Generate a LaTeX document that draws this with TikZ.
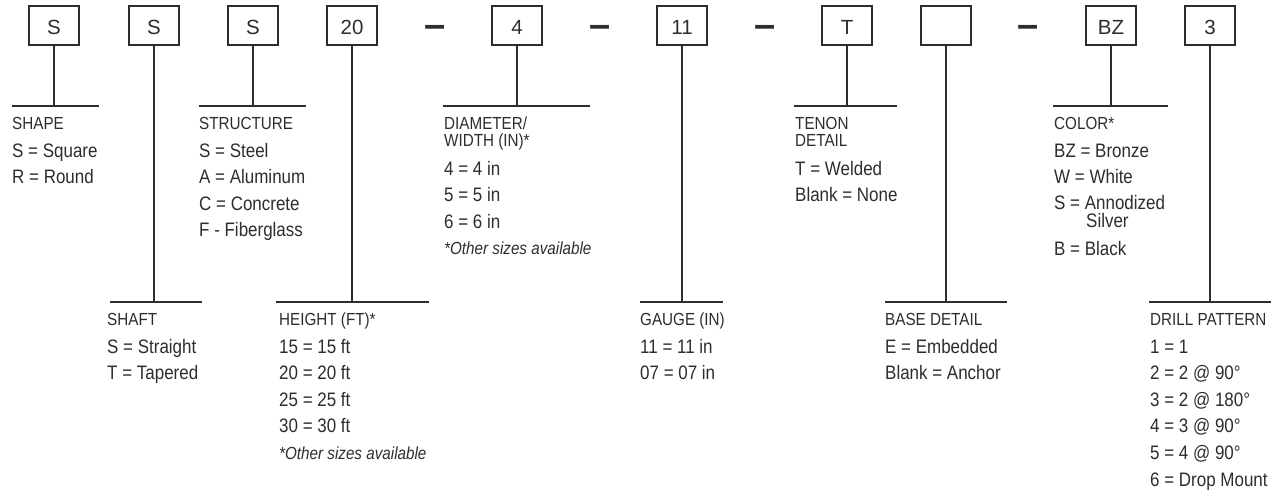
\documentclass[tikz,border=0pt]{standalone}
\usepackage{fontspec}
\setmainfont{Liberation Sans}
\newfontfamily\narrowfont{Liberation Sans}[FakeStretch=0.87]
\definecolor{ink}{RGB}{45,45,45}
\begin{document}
\begin{tikzpicture}[x=1pt,y=-1pt,
  codebox/.style={draw=ink, line width=1.2pt, minimum width=50pt, minimum height=39pt, inner sep=0pt,
    text height=17pt, text depth=0pt, font=\fontsize{20.5}{22}\selectfont, text=ink},
  dashmark/.style={anchor=base, inner sep=0pt, text=ink, font=\bfseries\fontsize{38}{40}\selectfont},
  ttl/.style={anchor=base west, inner sep=0pt, text=ink, font=\narrowfont\fontsize{17.5}{20}\selectfont},
  itm/.style={anchor=base west, inner sep=0pt, text=ink, font=\narrowfont\fontsize{19.5}{22}\selectfont},
  note/.style={anchor=base west, inner sep=0pt, text=ink, font=\narrowfont\itshape\fontsize{17.5}{20}\selectfont},
  vline/.style={draw=ink, line width=1.2pt},
  hline/.style={draw=ink, line width=1.6pt}]
\useasboundingbox (0,0) rectangle (1281,493);
% code boxes
\node[codebox] (b1) at (54,25.5) {S};
\node[codebox] (b2) at (154,25.5) {S};
\node[codebox] (b3) at (253,25.5) {S};
\node[codebox] (b4) at (352,25.5) {20};
\node[codebox] (b5) at (517,25.5) {4};
\node[codebox] (b6) at (682,25.5) {11};
\node[codebox] (b7) at (847,25.5) {T};
\node[codebox] (b8) at (946,25.5) {};
\node[codebox] (b9) at (1111,25.5) {BZ};
\node[codebox] (b10) at (1210,25.5) {3};
% dashes
\node[dashmark] (d1) at (435,37.4) {–};
\node[dashmark] (d2) at (600,37.4) {–};
\node[dashmark] (d3) at (765,37.4) {–};
\node[dashmark] (d4) at (1028,37.4) {–};
% horizontal rules
\coordinate (h1l) at (12,106);   \coordinate (h1r) at (99,106);
\coordinate (h2l) at (110,302);  \coordinate (h2r) at (202,302);
\coordinate (h3l) at (199,106);  \coordinate (h3r) at (306,106);
\coordinate (h4l) at (276,302);  \coordinate (h4r) at (429,302);
\coordinate (h5l) at (443,106);  \coordinate (h5r) at (590,106);
\coordinate (h6l) at (640,302);  \coordinate (h6r) at (723,302);
\coordinate (h7l) at (794,106);  \coordinate (h7r) at (897,106);
\coordinate (h8l) at (885,302);  \coordinate (h8r) at (1007,302);
\coordinate (h9l) at (1053,106); \coordinate (h9r) at (1168,106);
\coordinate (h10l) at (1149,302); \coordinate (h10r) at (1271,302);
\foreach \i in {1,...,10} {
  \draw[hline] (h\i l) -- (h\i r);
  \draw[vline] (b\i.south) -- (b\i.south |- h\i l);
}
% SHAPE
\node[ttl] (t1) at (12,129.4) {SHAPE};
\node[itm] (t1a) at (12,157) {S = Square};
\node[itm] (t1b) at (12,183.6) {R = Round};
% STRUCTURE
\node[ttl] (t3) at (199,129.4) {STRUCTURE};
\node[itm] (t3a) at (199,157) {S = Steel};
\node[itm] (t3b) at (199,183.6) {A = Aluminum};
\node[itm] (t3c) at (199,210.2) {C = Concrete};
\node[itm] (t3d) at (199,236.8) {F - Fiberglass};
% DIAMETER
\node[ttl] (t5) at (444,129.4) {DIAMETER/};
\node[ttl] (t5x) at (444,146.4) {WIDTH (IN)*};
\node[itm] (t5a) at (444,175) {4 = 4 in};
\node[itm] (t5b) at (444,201.7) {5 = 5 in};
\node[itm] (t5c) at (444,228.4) {6 = 6 in};
\node[note] (t5n) at (444,254.5) {*Other sizes available};
% TENON
\node[ttl] (t7) at (795,129.4) {TENON};
\node[ttl] (t7x) at (795,146.4) {DETAIL};
\node[itm] (t7a) at (795,175) {T = Welded};
\node[itm] (t7b) at (795,201.7) {Blank = None};
% COLOR
\node[ttl] (t9) at (1054,129.4) {COLOR*};
\node[itm] (t9a) at (1054,157) {BZ = Bronze};
\node[itm] (t9b) at (1054,183.6) {W = White};
\node[itm] (t9c) at (1054,209.7) {S = Annodized};
\node[itm] (t9d) at (1086,227) {Silver};
\node[itm] (t9e) at (1054,255.3) {B = Black};
% SHAFT
\node[ttl] (t2) at (107,325.4) {SHAFT};
\node[itm] (t2a) at (107,353) {S = Straight};
\node[itm] (t2b) at (107,379.6) {T = Tapered};
% HEIGHT
\node[ttl] (t4) at (279,325.4) {HEIGHT (FT)*};
\node[itm] (t4a) at (279,353) {15 = 15 ft};
\node[itm] (t4b) at (279,379.6) {20 = 20 ft};
\node[itm] (t4c) at (279,406.2) {25 = 25 ft};
\node[itm] (t4d) at (279,432.8) {30 = 30 ft};
\node[note] (t4n) at (279,459) {*Other sizes available};
% GAUGE
\node[ttl] (t6) at (640,325.4) {GAUGE (IN)};
\node[itm] (t6a) at (640,353) {11 = 11 in};
\node[itm] (t6b) at (640,379.6) {07 = 07 in};
% BASE
\node[ttl] (t8) at (885,325.4) {BASE DETAIL};
\node[itm] (t8a) at (885,353) {E = Embedded};
\node[itm] (t8b) at (885,379.6) {Blank = Anchor};
% DRILL
\node[ttl] (t10) at (1150,325.4) {DRILL PATTERN};
\node[itm] (t10a) at (1150,353) {1 = 1};
\node[itm] (t10b) at (1150,379.6) {2 = 2 @ 90°};
\node[itm] (t10c) at (1150,406.2) {3 = 2 @ 180°};
\node[itm] (t10d) at (1150,432.8) {4 = 3 @ 90°};
\node[itm] (t10e) at (1150,459.4) {5 = 4 @ 90°};
\node[itm] (t10f) at (1150,486) {6 = Drop Mount};
\end{tikzpicture}
\end{document}
